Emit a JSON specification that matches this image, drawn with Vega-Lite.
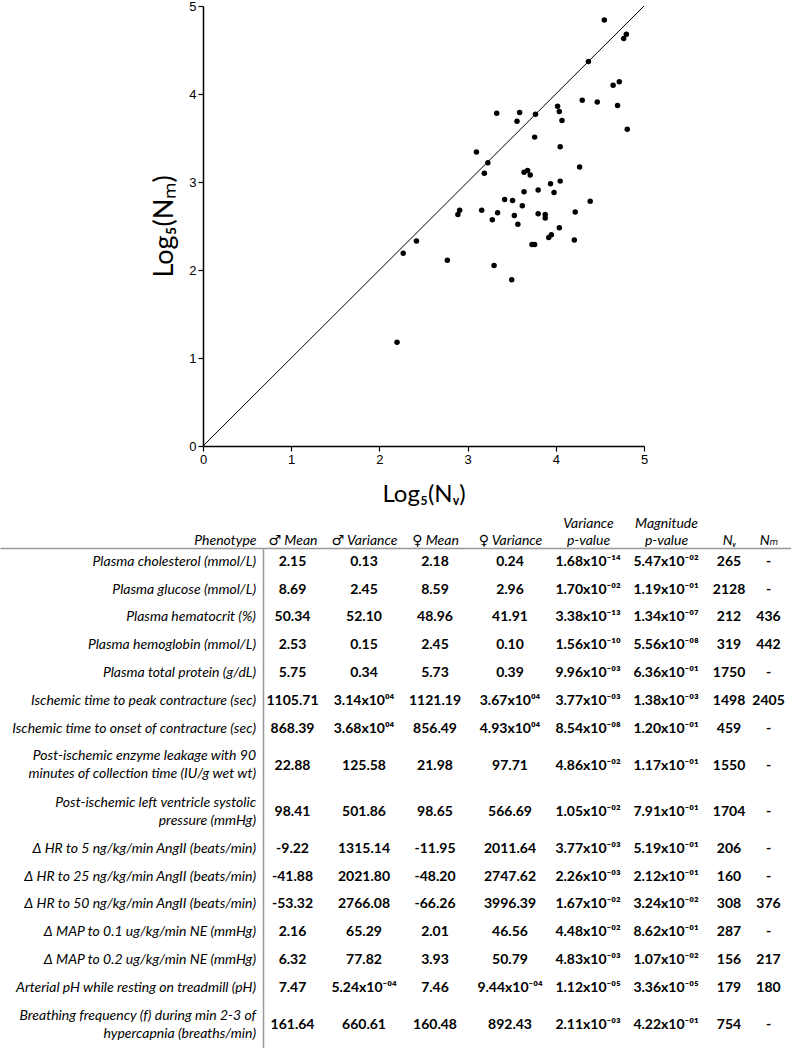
{
  "$schema": "https://vega.github.io/schema/vega-lite/v6.json",
  "padding": 0,
  "spacing": 10,
  "config": {
    "view": {"stroke": null},
    "axisTop": {"domainColor": "#999999", "domainWidth": 1.5, "ticks": false, "labels": false, "grid": false, "titleFont": "Lato, DejaVu Sans", "titleFontSize": 14, "titleFontStyle": "italic", "titleFontWeight": "normal", "titleColor": "black", "titlePadding": 1, "titleLineHeight": 17}
  },
  "datasets": {
    "points": [
      {"log5_nv": 2.20, "log5_nm": 1.18}, {"log5_nv": 2.27, "log5_nm": 2.19}, {"log5_nv": 2.42, "log5_nm": 2.33}, {"log5_nv": 2.77, "log5_nm": 2.11},
      {"log5_nv": 2.89, "log5_nm": 2.63}, {"log5_nv": 2.91, "log5_nm": 2.68}, {"log5_nv": 3.10, "log5_nm": 3.34}, {"log5_nv": 3.16, "log5_nm": 2.68},
      {"log5_nv": 3.19, "log5_nm": 3.10}, {"log5_nv": 3.23, "log5_nm": 3.22}, {"log5_nv": 3.28, "log5_nm": 2.57}, {"log5_nv": 3.30, "log5_nm": 2.05},
      {"log5_nv": 3.33, "log5_nm": 3.78}, {"log5_nv": 3.34, "log5_nm": 2.65}, {"log5_nv": 3.42, "log5_nm": 2.80}, {"log5_nv": 3.50, "log5_nm": 1.89},
      {"log5_nv": 3.51, "log5_nm": 2.79}, {"log5_nv": 3.53, "log5_nm": 2.62}, {"log5_nv": 3.57, "log5_nm": 2.52}, {"log5_nv": 3.56, "log5_nm": 3.69},
      {"log5_nv": 3.59, "log5_nm": 3.79}, {"log5_nv": 3.62, "log5_nm": 2.73}, {"log5_nv": 3.64, "log5_nm": 2.89}, {"log5_nv": 3.64, "log5_nm": 3.11},
      {"log5_nv": 3.68, "log5_nm": 3.13}, {"log5_nv": 3.71, "log5_nm": 3.08}, {"log5_nv": 3.73, "log5_nm": 2.29}, {"log5_nv": 3.76, "log5_nm": 2.29},
      {"log5_nv": 3.76, "log5_nm": 3.51}, {"log5_nv": 3.77, "log5_nm": 3.77}, {"log5_nv": 3.80, "log5_nm": 2.91}, {"log5_nv": 3.80, "log5_nm": 2.64},
      {"log5_nv": 3.88, "log5_nm": 2.63}, {"log5_nv": 3.88, "log5_nm": 2.59}, {"log5_nv": 3.92, "log5_nm": 2.37}, {"log5_nv": 3.94, "log5_nm": 2.98},
      {"log5_nv": 3.95, "log5_nm": 2.40}, {"log5_nv": 3.98, "log5_nm": 2.88}, {"log5_nv": 4.02, "log5_nm": 3.86}, {"log5_nv": 4.04, "log5_nm": 3.80},
      {"log5_nv": 4.04, "log5_nm": 2.48}, {"log5_nv": 4.05, "log5_nm": 3.40}, {"log5_nv": 4.05, "log5_nm": 3.01}, {"log5_nv": 4.07, "log5_nm": 3.70},
      {"log5_nv": 4.21, "log5_nm": 2.34}, {"log5_nv": 4.22, "log5_nm": 2.66}, {"log5_nv": 4.27, "log5_nm": 3.17}, {"log5_nv": 4.30, "log5_nm": 3.93},
      {"log5_nv": 4.37, "log5_nm": 4.37}, {"log5_nv": 4.39, "log5_nm": 2.78}, {"log5_nv": 4.47, "log5_nm": 3.91}, {"log5_nv": 4.55, "log5_nm": 4.84},
      {"log5_nv": 4.65, "log5_nm": 4.10}, {"log5_nv": 4.70, "log5_nm": 3.87}, {"log5_nv": 4.72, "log5_nm": 4.14}, {"log5_nv": 4.77, "log5_nm": 4.63},
      {"log5_nv": 4.80, "log5_nm": 4.68}, {"log5_nv": 4.81, "log5_nm": 3.60}
    ],
    "table": [
      {"phenotype": "Plasma cholesterol (mmol/L)", "mMean": "2.15", "mVar": "0.13", "fMean": "2.18", "fVar": "0.24", "varP": "1.68x10⁻¹⁴", "magP": "5.47x10⁻⁰²", "nV": "265", "nM": "-"},
      {"phenotype": "Plasma glucose (mmol/L)", "mMean": "8.69", "mVar": "2.45", "fMean": "8.59", "fVar": "2.96", "varP": "1.70x10⁻⁰²", "magP": "1.19x10⁻⁰¹", "nV": "2128", "nM": "-"},
      {"phenotype": "Plasma hematocrit (%)", "mMean": "50.34", "mVar": "52.10", "fMean": "48.96", "fVar": "41.91", "varP": "3.38x10⁻¹³", "magP": "1.34x10⁻⁰⁷", "nV": "212", "nM": "436"},
      {"phenotype": "Plasma hemoglobin (mmol/L)", "mMean": "2.53", "mVar": "0.15", "fMean": "2.45", "fVar": "0.10", "varP": "1.56x10⁻¹⁰", "magP": "5.56x10⁻⁰⁸", "nV": "319", "nM": "442"},
      {"phenotype": "Plasma total protein (g/dL)", "mMean": "5.75", "mVar": "0.34", "fMean": "5.73", "fVar": "0.39", "varP": "9.96x10⁻⁰³", "magP": "6.36x10⁻⁰¹", "nV": "1750", "nM": "-"},
      {"phenotype": "Ischemic time to peak contracture (sec)", "mMean": "1105.71", "mVar": "3.14x10⁰⁴", "fMean": "1121.19", "fVar": "3.67x10⁰⁴", "varP": "3.77x10⁻⁰³", "magP": "1.38x10⁻⁰³", "nV": "1498", "nM": "2405"},
      {"phenotype": "Ischemic time to onset of contracture (sec)", "mMean": "868.39", "mVar": "3.68x10⁰⁴", "fMean": "856.49", "fVar": "4.93x10⁰⁴", "varP": "8.54x10⁻⁰⁸", "magP": "1.20x10⁻⁰¹", "nV": "459", "nM": "-"},
      {"phenotype": "Post-ischemic enzyme leakage with 90\nminutes of collection time (IU/g wet wt)", "mMean": "22.88", "mVar": "125.58", "fMean": "21.98", "fVar": "97.71", "varP": "4.86x10⁻⁰²", "magP": "1.17x10⁻⁰¹", "nV": "1550", "nM": "-"},
      {"phenotype": "Post-ischemic left ventricle systolic\npressure (mmHg)", "mMean": "98.41", "mVar": "501.86", "fMean": "98.65", "fVar": "566.69", "varP": "1.05x10⁻⁰²", "magP": "7.91x10⁻⁰¹", "nV": "1704", "nM": "-"},
      {"phenotype": "Δ HR to 5 ng/kg/min AngII (beats/min)", "mMean": "-9.22", "mVar": "1315.14", "fMean": "-11.95", "fVar": "2011.64", "varP": "3.77x10⁻⁰³", "magP": "5.19x10⁻⁰¹", "nV": "206", "nM": "-"},
      {"phenotype": "Δ HR to 25 ng/kg/min AngII (beats/min)", "mMean": "-41.88", "mVar": "2021.80", "fMean": "-48.20", "fVar": "2747.62", "varP": "2.26x10⁻⁰³", "magP": "2.12x10⁻⁰¹", "nV": "160", "nM": "-"},
      {"phenotype": "Δ HR to 50 ng/kg/min AngII (beats/min)", "mMean": "-53.32", "mVar": "2766.08", "fMean": "-66.26", "fVar": "3996.39", "varP": "1.67x10⁻⁰²", "magP": "3.24x10⁻⁰²", "nV": "308", "nM": "376"},
      {"phenotype": "Δ MAP to 0.1 ug/kg/min NE (mmHg)", "mMean": "2.16", "mVar": "65.29", "fMean": "2.01", "fVar": "46.56", "varP": "4.48x10⁻⁰²", "magP": "8.62x10⁻⁰¹", "nV": "287", "nM": "-"},
      {"phenotype": "Δ MAP to 0.2 ug/kg/min NE (mmHg)", "mMean": "6.32", "mVar": "77.82", "fMean": "3.93", "fVar": "50.79", "varP": "4.83x10⁻⁰³", "magP": "1.07x10⁻⁰²", "nV": "156", "nM": "217"},
      {"phenotype": "Arterial pH while resting on treadmill (pH)", "mMean": "7.47", "mVar": "5.24x10⁻⁰⁴", "fMean": "7.46", "fVar": "9.44x10⁻⁰⁴", "varP": "1.12x10⁻⁰⁵", "magP": "3.36x10⁻⁰⁵", "nV": "179", "nM": "180"},
      {"phenotype": "Breathing frequency (f) during min 2-3 of\nhypercapnia (breaths/min)", "mMean": "161.64", "mVar": "660.61", "fMean": "160.48", "fVar": "892.43", "varP": "2.11x10⁻⁰³", "magP": "4.22x10⁻⁰¹", "nV": "754", "nM": "-"}
    ]
  },
  "vconcat": [
    {
      "width": 644,
      "height": 440,
      "layer": [
        {
          "data": {"name": "points"},
          "mark": {"type": "circle", "size": 30, "color": "black", "opacity": 1},
          "encoding": {
            "x": {"field": "log5_nv", "type": "quantitative", "scale": {"domain": [0, 5], "nice": false, "range": [203, 644]},
                  "axis": {"title": "Log₅(Nᵥ)", "values": [0, 1, 2, 3, 4, 5], "format": "d", "grid": false, "labelFlush": false,
                           "domainColor": "black", "domainWidth": 1.5, "tickColor": "black", "tickSize": 5, "tickWidth": 1.2,
                           "labelFont": "Liberation Sans", "labelFontSize": 13, "labelColor": "black", "labelPadding": 2,
                           "titleFont": "Lato", "titleFontSize": 24, "titleFontWeight": "normal", "titleColor": "black", "titlePadding": 16}},
            "y": {"field": "log5_nm", "type": "quantitative", "scale": {"domain": [0, 5], "nice": false},
                  "axis": {"title": "Log₅(Nₘ)", "values": [0, 1, 2, 3, 4, 5], "format": "d", "grid": false, "offset": -203,
                           "domainColor": "black", "domainWidth": 1.5, "tickColor": "black", "tickSize": 5, "tickWidth": 1.2,
                           "labelFont": "Liberation Sans", "labelFontSize": 13, "labelColor": "black", "labelPadding": 2,
                           "titleX": -25,
                           "titleFont": "Lato", "titleFontSize": 27, "titleFontWeight": "normal", "titleColor": "black"}}
          }
        },
        {
          "data": {"values": [{}]},
          "mark": {"type": "rule", "color": "black", "strokeWidth": 1},
          "encoding": {
            "x": {"datum": 0, "type": "quantitative"},
            "y": {"datum": 0, "type": "quantitative"},
            "x2": {"datum": 5},
            "y2": {"datum": 5}
          }
        }
      ]
    },
    {
      "hconcat": [
        {
          "width": 263, "height": 500, "data": {"name": "table"},
          "mark": {"type": "text", "font": "Lato", "fontSize": 14, "fontStyle": "italic", "color": "black", "align": "right", "baseline": "middle", "dx": -7, "lineBreak": "\n", "lineHeight": 18},
          "encoding": {
            "x": {"datum": 1, "type": "quantitative", "scale": {"domain": [0, 1]}, "axis": {"orient": "top", "title": "Phenotype", "titleAnchor": "end", "titleAlign": "right", "titleX": 256}},
            "y": {"field": "phenotype", "type": "nominal", "scale": {"type": "point", "padding": 0.5, "domain": ["_a0", "Plasma cholesterol (mmol/L)", "_a1", "_a2", "Plasma glucose (mmol/L)", "_a3", "_a4", "Plasma hematocrit (%)", "_a5", "_a6", "Plasma hemoglobin (mmol/L)", "_a7", "_a8", "Plasma total protein (g/dL)", "_a9", "_a10", "Ischemic time to peak contracture (sec)", "_a11", "_a12", "Ischemic time to onset of contracture (sec)", "_a13", "_a14", "Post-ischemic enzyme leakage with 90\nminutes of collection time (IU/g wet wt)", "_a15", "_a16", "_a17", "_a18", "Post-ischemic left ventricle systolic\npressure (mmHg)", "_a19", "_a20", "_a21", "_a22", "Δ HR to 5 ng/kg/min AngII (beats/min)", "_a23", "_a24", "Δ HR to 25 ng/kg/min AngII (beats/min)", "_a25", "_a26", "Δ HR to 50 ng/kg/min AngII (beats/min)", "_a27", "_a28", "Δ MAP to 0.1 ug/kg/min NE (mmHg)", "_a29", "_a30", "Δ MAP to 0.2 ug/kg/min NE (mmHg)", "_a31", "_a32", "Arterial pH while resting on treadmill (pH)", "_a33", "_a34", "Breathing frequency (f) during min 2-3 of\nhypercapnia (breaths/min)", "_a35", "_a36", "_a37"]},
                  "axis": {"orient": "right", "labels": false, "ticks": false, "title": null, "grid": false, "domainColor": "#999999", "domainWidth": 1.5}},
            "text": {"field": "phenotype", "type": "nominal"}
          }
        },
        {
          "width": 59, "height": 500, "data": {"name": "table"},
          "mark": {"type": "text", "font": "Lato", "fontSize": 14, "fontWeight": "bold", "color": "black", "baseline": "middle"},
          "encoding": {
            "x": {"datum": 0.5, "type": "quantitative", "scale": {"domain": [0, 1]}, "axis": {"orient": "top", "title": "♂ Mean"}},
            "y": {"field": "phenotype", "type": "nominal", "axis": null, "scale": {"type": "point", "padding": 0.5, "domain": ["_a0", "Plasma cholesterol (mmol/L)", "_a1", "_a2", "Plasma glucose (mmol/L)", "_a3", "_a4", "Plasma hematocrit (%)", "_a5", "_a6", "Plasma hemoglobin (mmol/L)", "_a7", "_a8", "Plasma total protein (g/dL)", "_a9", "_a10", "Ischemic time to peak contracture (sec)", "_a11", "_a12", "Ischemic time to onset of contracture (sec)", "_a13", "_a14", "_a15", "Post-ischemic enzyme leakage with 90\nminutes of collection time (IU/g wet wt)", "_a16", "_a17", "_a18", "_a19", "Post-ischemic left ventricle systolic\npressure (mmHg)", "_a20", "_a21", "_a22", "Δ HR to 5 ng/kg/min AngII (beats/min)", "_a23", "_a24", "Δ HR to 25 ng/kg/min AngII (beats/min)", "_a25", "_a26", "Δ HR to 50 ng/kg/min AngII (beats/min)", "_a27", "_a28", "Δ MAP to 0.1 ug/kg/min NE (mmHg)", "_a29", "_a30", "Δ MAP to 0.2 ug/kg/min NE (mmHg)", "_a31", "_a32", "Arterial pH while resting on treadmill (pH)", "_a33", "_a34", "_a35", "Breathing frequency (f) during min 2-3 of\nhypercapnia (breaths/min)", "_a36", "_a37"]}},
            "text": {"field": "mMean", "type": "nominal"}
          }
        },
        {
          "width": 84, "height": 500, "data": {"name": "table"},
          "mark": {"type": "text", "font": "Lato", "fontSize": 14, "fontWeight": "bold", "color": "black", "baseline": "middle"},
          "encoding": {
            "x": {"datum": 0.5, "type": "quantitative", "scale": {"domain": [0, 1]}, "axis": {"orient": "top", "title": "♂ Variance"}},
            "y": {"field": "phenotype", "type": "nominal", "axis": null, "scale": {"type": "point", "padding": 0.5, "domain": ["_a0", "Plasma cholesterol (mmol/L)", "_a1", "_a2", "Plasma glucose (mmol/L)", "_a3", "_a4", "Plasma hematocrit (%)", "_a5", "_a6", "Plasma hemoglobin (mmol/L)", "_a7", "_a8", "Plasma total protein (g/dL)", "_a9", "_a10", "Ischemic time to peak contracture (sec)", "_a11", "_a12", "Ischemic time to onset of contracture (sec)", "_a13", "_a14", "_a15", "Post-ischemic enzyme leakage with 90\nminutes of collection time (IU/g wet wt)", "_a16", "_a17", "_a18", "_a19", "Post-ischemic left ventricle systolic\npressure (mmHg)", "_a20", "_a21", "_a22", "Δ HR to 5 ng/kg/min AngII (beats/min)", "_a23", "_a24", "Δ HR to 25 ng/kg/min AngII (beats/min)", "_a25", "_a26", "Δ HR to 50 ng/kg/min AngII (beats/min)", "_a27", "_a28", "Δ MAP to 0.1 ug/kg/min NE (mmHg)", "_a29", "_a30", "Δ MAP to 0.2 ug/kg/min NE (mmHg)", "_a31", "_a32", "Arterial pH while resting on treadmill (pH)", "_a33", "_a34", "_a35", "Breathing frequency (f) during min 2-3 of\nhypercapnia (breaths/min)", "_a36", "_a37"]}},
            "text": {"field": "mVar", "type": "nominal"}
          }
        },
        {
          "width": 58, "height": 500, "data": {"name": "table"},
          "mark": {"type": "text", "font": "Lato", "fontSize": 14, "fontWeight": "bold", "color": "black", "baseline": "middle"},
          "encoding": {
            "x": {"datum": 0.5, "type": "quantitative", "scale": {"domain": [0, 1]}, "axis": {"orient": "top", "title": "♀ Mean"}},
            "y": {"field": "phenotype", "type": "nominal", "axis": null, "scale": {"type": "point", "padding": 0.5, "domain": ["_a0", "Plasma cholesterol (mmol/L)", "_a1", "_a2", "Plasma glucose (mmol/L)", "_a3", "_a4", "Plasma hematocrit (%)", "_a5", "_a6", "Plasma hemoglobin (mmol/L)", "_a7", "_a8", "Plasma total protein (g/dL)", "_a9", "_a10", "Ischemic time to peak contracture (sec)", "_a11", "_a12", "Ischemic time to onset of contracture (sec)", "_a13", "_a14", "_a15", "Post-ischemic enzyme leakage with 90\nminutes of collection time (IU/g wet wt)", "_a16", "_a17", "_a18", "_a19", "Post-ischemic left ventricle systolic\npressure (mmHg)", "_a20", "_a21", "_a22", "Δ HR to 5 ng/kg/min AngII (beats/min)", "_a23", "_a24", "Δ HR to 25 ng/kg/min AngII (beats/min)", "_a25", "_a26", "Δ HR to 50 ng/kg/min AngII (beats/min)", "_a27", "_a28", "Δ MAP to 0.1 ug/kg/min NE (mmHg)", "_a29", "_a30", "Δ MAP to 0.2 ug/kg/min NE (mmHg)", "_a31", "_a32", "Arterial pH while resting on treadmill (pH)", "_a33", "_a34", "_a35", "Breathing frequency (f) during min 2-3 of\nhypercapnia (breaths/min)", "_a36", "_a37"]}},
            "text": {"field": "fMean", "type": "nominal"}
          }
        },
        {
          "width": 92, "height": 500, "data": {"name": "table"},
          "mark": {"type": "text", "font": "Lato", "fontSize": 14, "fontWeight": "bold", "color": "black", "baseline": "middle"},
          "encoding": {
            "x": {"datum": 0.5, "type": "quantitative", "scale": {"domain": [0, 1]}, "axis": {"orient": "top", "title": "♀ Variance"}},
            "y": {"field": "phenotype", "type": "nominal", "axis": null, "scale": {"type": "point", "padding": 0.5, "domain": ["_a0", "Plasma cholesterol (mmol/L)", "_a1", "_a2", "Plasma glucose (mmol/L)", "_a3", "_a4", "Plasma hematocrit (%)", "_a5", "_a6", "Plasma hemoglobin (mmol/L)", "_a7", "_a8", "Plasma total protein (g/dL)", "_a9", "_a10", "Ischemic time to peak contracture (sec)", "_a11", "_a12", "Ischemic time to onset of contracture (sec)", "_a13", "_a14", "_a15", "Post-ischemic enzyme leakage with 90\nminutes of collection time (IU/g wet wt)", "_a16", "_a17", "_a18", "_a19", "Post-ischemic left ventricle systolic\npressure (mmHg)", "_a20", "_a21", "_a22", "Δ HR to 5 ng/kg/min AngII (beats/min)", "_a23", "_a24", "Δ HR to 25 ng/kg/min AngII (beats/min)", "_a25", "_a26", "Δ HR to 50 ng/kg/min AngII (beats/min)", "_a27", "_a28", "Δ MAP to 0.1 ug/kg/min NE (mmHg)", "_a29", "_a30", "Δ MAP to 0.2 ug/kg/min NE (mmHg)", "_a31", "_a32", "Arterial pH while resting on treadmill (pH)", "_a33", "_a34", "_a35", "Breathing frequency (f) during min 2-3 of\nhypercapnia (breaths/min)", "_a36", "_a37"]}},
            "text": {"field": "fVar", "type": "nominal"}
          }
        },
        {
          "width": 64, "height": 500, "data": {"name": "table"},
          "mark": {"type": "text", "font": "Lato", "fontSize": 14, "fontWeight": "bold", "color": "black", "baseline": "middle"},
          "encoding": {
            "x": {"datum": 0.5, "type": "quantitative", "scale": {"domain": [0, 1]}, "axis": {"orient": "top", "title": ["Variance", "p-value"]}},
            "y": {"field": "phenotype", "type": "nominal", "axis": null, "scale": {"type": "point", "padding": 0.5, "domain": ["_a0", "Plasma cholesterol (mmol/L)", "_a1", "_a2", "Plasma glucose (mmol/L)", "_a3", "_a4", "Plasma hematocrit (%)", "_a5", "_a6", "Plasma hemoglobin (mmol/L)", "_a7", "_a8", "Plasma total protein (g/dL)", "_a9", "_a10", "Ischemic time to peak contracture (sec)", "_a11", "_a12", "Ischemic time to onset of contracture (sec)", "_a13", "_a14", "_a15", "Post-ischemic enzyme leakage with 90\nminutes of collection time (IU/g wet wt)", "_a16", "_a17", "_a18", "_a19", "Post-ischemic left ventricle systolic\npressure (mmHg)", "_a20", "_a21", "_a22", "Δ HR to 5 ng/kg/min AngII (beats/min)", "_a23", "_a24", "Δ HR to 25 ng/kg/min AngII (beats/min)", "_a25", "_a26", "Δ HR to 50 ng/kg/min AngII (beats/min)", "_a27", "_a28", "Δ MAP to 0.1 ug/kg/min NE (mmHg)", "_a29", "_a30", "Δ MAP to 0.2 ug/kg/min NE (mmHg)", "_a31", "_a32", "Arterial pH while resting on treadmill (pH)", "_a33", "_a34", "_a35", "Breathing frequency (f) during min 2-3 of\nhypercapnia (breaths/min)", "_a36", "_a37"]}},
            "text": {"field": "varP", "type": "nominal"}
          }
        },
        {
          "width": 92, "height": 500, "data": {"name": "table"},
          "mark": {"type": "text", "font": "Lato", "fontSize": 14, "fontWeight": "bold", "color": "black", "baseline": "middle"},
          "encoding": {
            "x": {"datum": 0.5, "type": "quantitative", "scale": {"domain": [0, 1]}, "axis": {"orient": "top", "title": ["Magnitude", "p-value"]}},
            "y": {"field": "phenotype", "type": "nominal", "axis": null, "scale": {"type": "point", "padding": 0.5, "domain": ["_a0", "Plasma cholesterol (mmol/L)", "_a1", "_a2", "Plasma glucose (mmol/L)", "_a3", "_a4", "Plasma hematocrit (%)", "_a5", "_a6", "Plasma hemoglobin (mmol/L)", "_a7", "_a8", "Plasma total protein (g/dL)", "_a9", "_a10", "Ischemic time to peak contracture (sec)", "_a11", "_a12", "Ischemic time to onset of contracture (sec)", "_a13", "_a14", "_a15", "Post-ischemic enzyme leakage with 90\nminutes of collection time (IU/g wet wt)", "_a16", "_a17", "_a18", "_a19", "Post-ischemic left ventricle systolic\npressure (mmHg)", "_a20", "_a21", "_a22", "Δ HR to 5 ng/kg/min AngII (beats/min)", "_a23", "_a24", "Δ HR to 25 ng/kg/min AngII (beats/min)", "_a25", "_a26", "Δ HR to 50 ng/kg/min AngII (beats/min)", "_a27", "_a28", "Δ MAP to 0.1 ug/kg/min NE (mmHg)", "_a29", "_a30", "Δ MAP to 0.2 ug/kg/min NE (mmHg)", "_a31", "_a32", "Arterial pH while resting on treadmill (pH)", "_a33", "_a34", "_a35", "Breathing frequency (f) during min 2-3 of\nhypercapnia (breaths/min)", "_a36", "_a37"]}},
            "text": {"field": "magP", "type": "nominal"}
          }
        },
        {
          "width": 34, "height": 500, "data": {"name": "table"},
          "mark": {"type": "text", "font": "Lato", "fontSize": 14, "fontWeight": "bold", "color": "black", "baseline": "middle"},
          "encoding": {
            "x": {"datum": 0.5, "type": "quantitative", "scale": {"domain": [0, 1]}, "axis": {"orient": "top", "title": "Nᵥ"}},
            "y": {"field": "phenotype", "type": "nominal", "axis": null, "scale": {"type": "point", "padding": 0.5, "domain": ["_a0", "Plasma cholesterol (mmol/L)", "_a1", "_a2", "Plasma glucose (mmol/L)", "_a3", "_a4", "Plasma hematocrit (%)", "_a5", "_a6", "Plasma hemoglobin (mmol/L)", "_a7", "_a8", "Plasma total protein (g/dL)", "_a9", "_a10", "Ischemic time to peak contracture (sec)", "_a11", "_a12", "Ischemic time to onset of contracture (sec)", "_a13", "_a14", "_a15", "Post-ischemic enzyme leakage with 90\nminutes of collection time (IU/g wet wt)", "_a16", "_a17", "_a18", "_a19", "Post-ischemic left ventricle systolic\npressure (mmHg)", "_a20", "_a21", "_a22", "Δ HR to 5 ng/kg/min AngII (beats/min)", "_a23", "_a24", "Δ HR to 25 ng/kg/min AngII (beats/min)", "_a25", "_a26", "Δ HR to 50 ng/kg/min AngII (beats/min)", "_a27", "_a28", "Δ MAP to 0.1 ug/kg/min NE (mmHg)", "_a29", "_a30", "Δ MAP to 0.2 ug/kg/min NE (mmHg)", "_a31", "_a32", "Arterial pH while resting on treadmill (pH)", "_a33", "_a34", "_a35", "Breathing frequency (f) during min 2-3 of\nhypercapnia (breaths/min)", "_a36", "_a37"]}},
            "text": {"field": "nV", "type": "nominal"}
          }
        },
        {
          "width": 45, "height": 500, "data": {"name": "table"},
          "mark": {"type": "text", "font": "Lato", "fontSize": 14, "fontWeight": "bold", "color": "black", "baseline": "middle"},
          "encoding": {
            "x": {"datum": 0.5, "type": "quantitative", "scale": {"domain": [0, 1]}, "axis": {"orient": "top", "title": "Nₘ"}},
            "y": {"field": "phenotype", "type": "nominal", "axis": null, "scale": {"type": "point", "padding": 0.5, "domain": ["_a0", "Plasma cholesterol (mmol/L)", "_a1", "_a2", "Plasma glucose (mmol/L)", "_a3", "_a4", "Plasma hematocrit (%)", "_a5", "_a6", "Plasma hemoglobin (mmol/L)", "_a7", "_a8", "Plasma total protein (g/dL)", "_a9", "_a10", "Ischemic time to peak contracture (sec)", "_a11", "_a12", "Ischemic time to onset of contracture (sec)", "_a13", "_a14", "_a15", "Post-ischemic enzyme leakage with 90\nminutes of collection time (IU/g wet wt)", "_a16", "_a17", "_a18", "_a19", "Post-ischemic left ventricle systolic\npressure (mmHg)", "_a20", "_a21", "_a22", "Δ HR to 5 ng/kg/min AngII (beats/min)", "_a23", "_a24", "Δ HR to 25 ng/kg/min AngII (beats/min)", "_a25", "_a26", "Δ HR to 50 ng/kg/min AngII (beats/min)", "_a27", "_a28", "Δ MAP to 0.1 ug/kg/min NE (mmHg)", "_a29", "_a30", "Δ MAP to 0.2 ug/kg/min NE (mmHg)", "_a31", "_a32", "Arterial pH while resting on treadmill (pH)", "_a33", "_a34", "_a35", "Breathing frequency (f) during min 2-3 of\nhypercapnia (breaths/min)", "_a36", "_a37"]}},
            "text": {"field": "nM", "type": "nominal"}
          }
        }
      ],
      "spacing": 0,
      "bounds": "flush"
    }
  ]
}
